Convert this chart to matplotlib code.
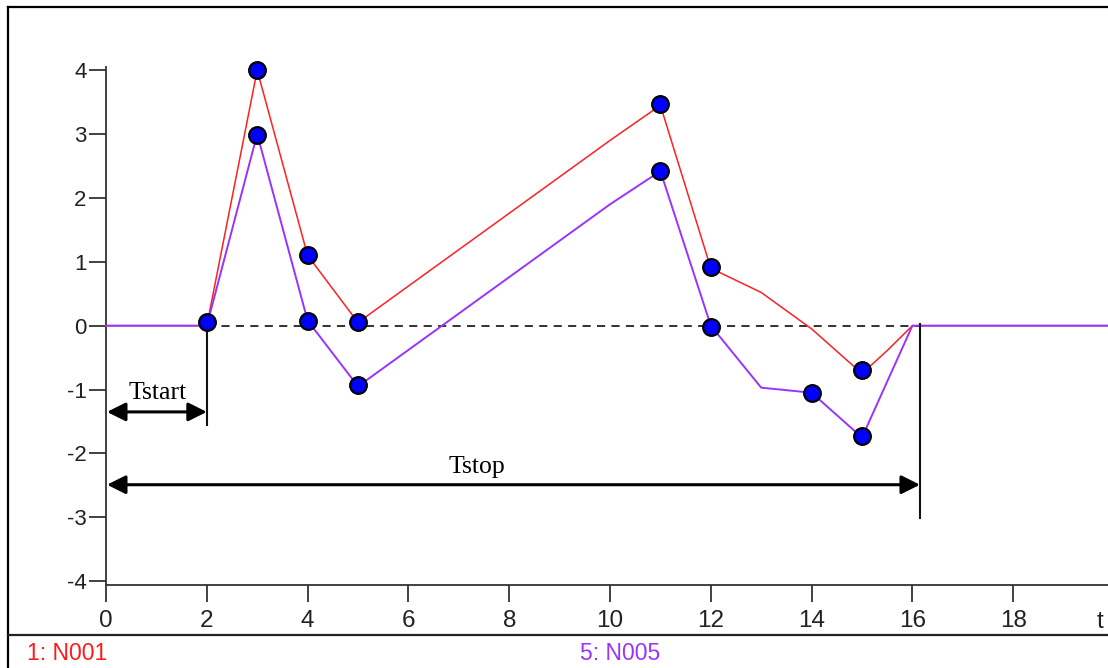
import matplotlib
matplotlib.use("Agg")
import matplotlib.pyplot as plt
from matplotlib.lines import Line2D
import numpy as np

# ---- data ----
red_t = [0, 2, 3, 4, 5, 10, 11, 12, 13, 14, 15, 15.5, 16, 19.9]
red_v = [0, 0, 4.0, 1.1, 0.05, 2.9, 3.45, 0.9, 0.52, -0.05, -0.75, -0.39, 0, 0]
pur_t = [0, 2, 3, 4, 5, 10, 11, 12, 13, 14, 15, 16, 19.9]
pur_v = [0, 0, 3.0, 0.08, -0.95, 1.9, 2.42, 0, -0.97, -1.05, -1.75, 0, 0]
red_marks_t = [2, 3, 4, 5, 11, 12, 15]
red_marks_v = [0.05, 4.0, 1.1, 0.05, 3.47, 0.92, -0.69]
pur_marks_t = [3, 4, 5, 11, 12, 14, 15]
pur_marks_v = [2.98, 0.08, -0.93, 2.42, -0.02, -1.05, -1.73]
xticks = [0, 2, 4, 6, 8, 10, 12, 14, 16, 18]
yticks = [-4, -3, -2, -1, 0, 1, 2, 3, 4]
t_start = 2.0
t_stop = 16.15
legend_labels = ["1: N001", "5: N005"]

W, H = 1108, 668
RED = "#ff2020"
PUR = "#9933ff"

fig = plt.figure(figsize=(W / 100, H / 100), dpi=100)
fig.patch.set_facecolor("white")

def fx(x):
    return x / W

def fy(y):
    return 1 - y / H

left, right, top, bottom = 106, 1108, 67, 585
ax = fig.add_axes([fx(left), fy(bottom), (right - left) / W, (bottom - top) / H])
ax.set_xlim(0, (right - left) / 50.4)
ax.set_ylim(-4.06, 4.05)
ax.patch.set_alpha(0)

for s in ["top", "right"]:
    ax.spines[s].set_visible(False)
for s in ["left", "bottom"]:
    ax.spines[s].set_color("#333333")
    ax.spines[s].set_linewidth(1.3)

ax.set_xticks(xticks)
ax.set_yticks(yticks)
ax.set_xticklabels([str(v) for v in xticks], fontsize=17.5, color="#222222",
                   family="Liberation Sans")
ax.set_yticklabels([str(v) for v in yticks], fontsize=16, color="#222222",
                   family="Liberation Sans")
ax.tick_params(axis="x", length=12, width=1.3, color="#333333", pad=6)
ax.tick_params(axis="y", length=12, width=1.3, color="#333333", pad=2)
ax.text(19.72, -4.06 - 0.40, "t", fontsize=17.5, color="#222222",
        family="Liberation Sans", ha="center", va="top")

# zero dashed line
ax.plot([t_start, t_stop], [0, 0], color="#222222", lw=1.3, ls=(0, (4.5, 3.5)), zorder=2)

# series
ax.plot(red_t, red_v, color=RED, lw=1.1, zorder=3, clip_on=False)
ax.plot(pur_t, pur_v, color=PUR, lw=1.4, zorder=4, clip_on=False)

# markers
ax.plot(red_marks_t, red_marks_v, ls="none", marker="o", ms=12, mfc="#0000ff",
        mec="black", mew=1.6, zorder=6, clip_on=False)
ax.plot(pur_marks_t, pur_marks_v, ls="none", marker="o", ms=12, mfc="#0000ff",
        mec="black", mew=1.6, zorder=6, clip_on=False)

# vertical lines
ax.plot([t_start, t_start], [0, -1.55], color="#111111", lw=1.5, zorder=5)
ax.plot([t_stop, t_stop], [0.03, -3.01], color="#111111", lw=1.5, zorder=5)

# arrows
ap = dict(arrowstyle="<|-|>", mutation_scale=28, lw=2.2, color="black",
          shrinkA=0, shrinkB=0)
ax.annotate("", xy=(0.02, -1.35), xytext=(t_start, -1.35), arrowprops=ap, zorder=5)
ax.annotate("", xy=(0.02, -2.49), xytext=(t_stop, -2.49), arrowprops=ap, zorder=5)
ax.text(1.03, -1.15, "Tstart", fontsize=18.5, family="Liberation Serif",
        ha="center", va="baseline", color="black")
ax.text(7.35, -2.31, "Tstop", fontsize=18.5, family="Liberation Serif",
        ha="center", va="baseline", color="black")

# frame lines
lw_f = 1.6
fig.add_artist(Line2D([fx(7.5), fx(7.5)], [fy(7), 0], color="black", lw=lw_f))
fig.add_artist(Line2D([fx(7.5), 1], [fy(7), fy(7)], color="black", lw=lw_f))
fig.add_artist(Line2D([fx(7.5), 1], [fy(635), fy(635)], color="#222222", lw=lw_f))

# legend texts
fig.text(fx(27), fy(660), legend_labels[0], color="#ff1a1a", fontsize=16.5,
         family="Liberation Sans", va="baseline", ha="left")
fig.text(fx(580), fy(660), legend_labels[1], color=PUR, fontsize=16.5,
         family="Liberation Sans", va="baseline", ha="left")

fig.savefig("out.png", dpi=100, facecolor="white")
